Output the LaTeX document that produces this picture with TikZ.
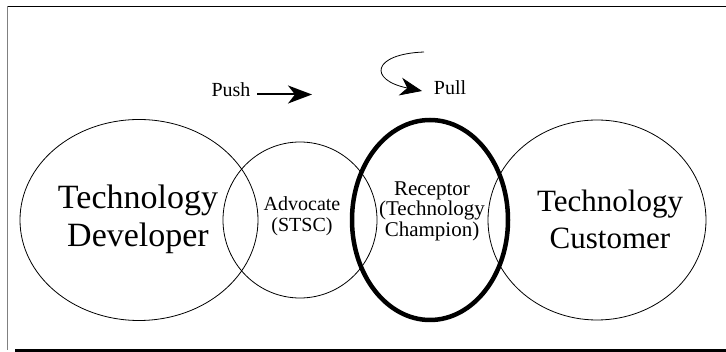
\documentclass[tikz,border=0pt]{standalone}
\usepackage{fontspec}
\setmainfont{Liberation Serif}
\usetikzlibrary{arrows.meta,shapes.geometric}
\begin{document}
\begin{tikzpicture}[x=1pt,y=-1pt,
  zone/.style={draw, ellipse, line width=0.8pt, inner sep=0pt},
  champion/.style={zone, line width=4.5pt},
  bigtext/.style={align=center, font=\fontsize{34}{38}\selectfont},
  midtext/.style={align=center, font=\fontsize{31}{37}\selectfont},
  smalltext/.style={align=center, font=\fontsize{20}{21}\selectfont},
  bigtip/.style={-{Stealth[length=24pt,width=18pt,inset=7pt]}},
]
\useasboundingbox (0,0) rectangle (726,352);
% page frame
\draw[line width=0.8pt] (7,6) -- (726,6);
\draw[gray, line width=1.5pt] (7.5,6) -- (7.5,350);
\draw[line width=2.5pt] (15,350.5) -- (726,350.5);

% overlapping zones
\node[zone, minimum width=238pt, minimum height=201pt] (dev) at (139,220) {};
\node[zone, minimum width=154pt, minimum height=156pt] (adv) at (300,220) {};
\node[champion, minimum width=156pt, minimum height=200pt] (rec) at (430,220) {};
\node[zone, minimum width=218pt, minimum height=200pt] (cust) at (597,220) {};

% zone labels
\node[bigtext] (devtext) at (138,219) {Technology\\Developer};
\node[smalltext] (advtext) at (302,216) {Advocate\\(STSC)};
\node[smalltext, font=\fontsize{21}{20.5}\selectfont] (rectext) at (432,211) {Receptor\\(Technology\\Champion)};
\node[midtext] (custtext) at (610,219) {Technology\\Customer};

% push arrow
\node[smalltext, anchor=base] (push) at (231,97) {Push};
\coordinate (pushtail) at (257,94.5);
\coordinate (pushtip) at (312,94.5);
\draw[line width=2pt, bigtip] (pushtail) -- (pushtip);

% pull arrow
\node[smalltext, anchor=base] (pull) at (450,95) {Pull};
\coordinate (pullstart) at (424,52);
\coordinate (pulltip) at (422,91);
\draw[line width=0.8pt, -{Stealth[length=22pt,width=18pt,inset=7pt]}]
  (pullstart) .. controls (372,54) and (368,80) .. (pulltip);
\end{tikzpicture}
\end{document}
